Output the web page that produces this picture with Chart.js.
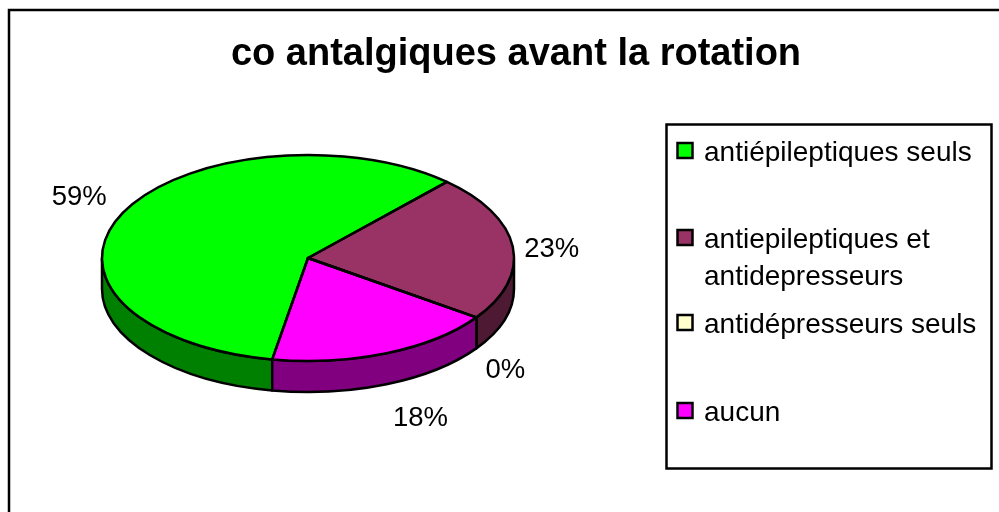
<!DOCTYPE html>
<html>
<head>
<meta charset="utf-8">
<style>html,body{margin:0;padding:0;background:#fff;overflow:hidden}canvas{display:block}</style>
<script src="https://cdn.jsdelivr.net/npm/chart.js@4"></script>
</head>
<body>
<canvas id="c" width="999" height="512"></canvas>
<script>
const titleText = 'co antalgiques avant la rotation';
const categories = ['antiépileptiques seuls', 'antiepileptiques et antidepresseurs', 'antidépresseurs seuls', 'aucun'];
const percentages = [59, 23, 0, 18];
const topColors = ['#00FF00', '#993366', '#FFFFCC', '#FF00FF'];
const sideColors = ['#008000', '#4D1933', '#808066', '#800080'];

const legendLines = [['antiépileptiques seuls'], ['antiepileptiques et', 'antidepresseurs'], ['antidépresseurs seuls'], ['aucun']];
const legendRows = [151, 238, 323, 411];
const labelOffsets = [[-44, -15], [39, 3], [29, 53], [34, 65]];
const FONT = '"Liberation Sans", Arial, sans-serif';
const SQUASH = 0.5, PIE_Y = 258, DEPTH = 31, LAYOUT_Y = 280, STROKE = 2.5;

function tilt(ctx, extra) {
  ctx.translate(0, PIE_Y + (extra || 0));
  ctx.scale(1, SQUASH);
  ctx.translate(0, -LAYOUT_Y);
}
function slicePath(ctx, a, start, end) {
  ctx.save(); tilt(ctx);
  ctx.beginPath();
  ctx.moveTo(a.x, a.y);
  ctx.arc(a.x, a.y, a.outerRadius, start, end);
  ctx.closePath();
  ctx.restore();
}
const pie3d = {
  id: 'pie3d',
  afterLayout(chart) {
    chart.titleBlock.left = 33;
    chart.titleBlock.right = 999;
  },
  beforeDraw(chart) {
    const ctx = chart.ctx;
    ctx.save();
    ctx.fillStyle = '#fff';
    ctx.fillRect(0, 0, 999, 512);
    ctx.strokeStyle = '#000';
    ctx.lineWidth = STROKE;
    ctx.strokeRect(9, 10, 1200, 1200);
    ctx.restore();
  },
  beforeDatasetsDraw(chart) {
    const ctx = chart.ctx;
    const arcs = chart.getDatasetMeta(0).data;
    ctx.save();
    ctx.lineWidth = STROKE;
    ctx.strokeStyle = '#000';
    ctx.lineJoin = 'round';
    const TAU = Math.PI * 2;
    arcs.forEach((a, i) => {
      if (percentages[i] === 0) return;
      let s = a.startAngle, e = a.endAngle;
      while (s < 0) { s += TAU; e += TAU; }
      while (s >= TAU) { s -= TAU; e -= TAU; }
      [[s, e], [s - TAU, e - TAU]].forEach(([p, q]) => {
        const from = Math.max(p, 0), to = Math.min(q, Math.PI);
        if (to <= from) return;
        ctx.save(); tilt(ctx);
        ctx.beginPath();
        ctx.arc(a.x, a.y, a.outerRadius, from, to);
        ctx.restore();
        ctx.save(); tilt(ctx, DEPTH);
        ctx.arc(a.x, a.y, a.outerRadius, to, from, true);
        ctx.restore();
        ctx.closePath();
        ctx.fillStyle = sideColors[i];
        ctx.fill();
        ctx.stroke();
      });
    });
    ctx.restore();
    ctx.save();
    tilt(ctx);
  },
  afterDatasetsDraw(chart) {
    const ctx = chart.ctx;
    ctx.restore();
    const arcs = chart.getDatasetMeta(0).data;
    ctx.save();
    ctx.lineWidth = STROKE;
    ctx.strokeStyle = '#000';
    ctx.lineJoin = 'round';
    arcs.forEach((a) => {
      slicePath(ctx, a, a.startAngle, a.endAngle);
      ctx.stroke();
    });
    ctx.fillStyle = '#000';
    ctx.font = '27.5px ' + FONT;
    ctx.textAlign = 'center';
    ctx.textBaseline = 'middle';
    arcs.forEach((a, i) => {
      const mid = (a.startAngle + a.endAngle) / 2;
      const x = a.x + a.outerRadius * Math.cos(mid) + labelOffsets[i][0];
      const y = PIE_Y + a.outerRadius * SQUASH * Math.sin(mid) + labelOffsets[i][1];
      ctx.fillText(percentages[i] + '%', x, y);
    });
    ctx.restore();
  },
  afterDraw(chart) {
    const ctx = chart.ctx;
    ctx.save();
    ctx.strokeStyle = '#000';
    ctx.lineWidth = STROKE;
    ctx.strokeRect(666.5, 124.5, 325, 344);
    ctx.font = '28px ' + FONT;
    ctx.textAlign = 'left';
    ctx.textBaseline = 'middle';
    legendLines.forEach((lines, i) => {
      ctx.fillStyle = topColors[i];
      ctx.fillRect(677.5, legendRows[i] - 8, 15, 15);
      ctx.strokeRect(677.5, legendRows[i] - 8, 15, 15);
      ctx.fillStyle = '#000';
      lines.forEach((t, j) => ctx.fillText(t, 704, legendRows[i] + 2 + j * 37));
    });
    ctx.restore();
  }
};

new Chart(document.getElementById('c'), {
  type: 'pie',
  data: {
    labels: categories,
    datasets: [{ data: percentages, backgroundColor: topColors, borderWidth: 0 }]
  },
  options: {
    responsive: false,
    animation: false,
    rotation: 190,
    layout: { padding: { left: 102, right: 485, top: 0, bottom: 26 } },
    plugins: {
      legend: { display: false },
      tooltip: { enabled: false },
      title: {
        display: true,
        text: titleText,
        color: '#000',
        font: { family: FONT, size: 38, weight: 'bold', lineHeight: 1 },
        padding: { top: 36, bottom: 0 }
      }
    }
  },
  plugins: [pie3d]
});
</script>
</body>
</html>
